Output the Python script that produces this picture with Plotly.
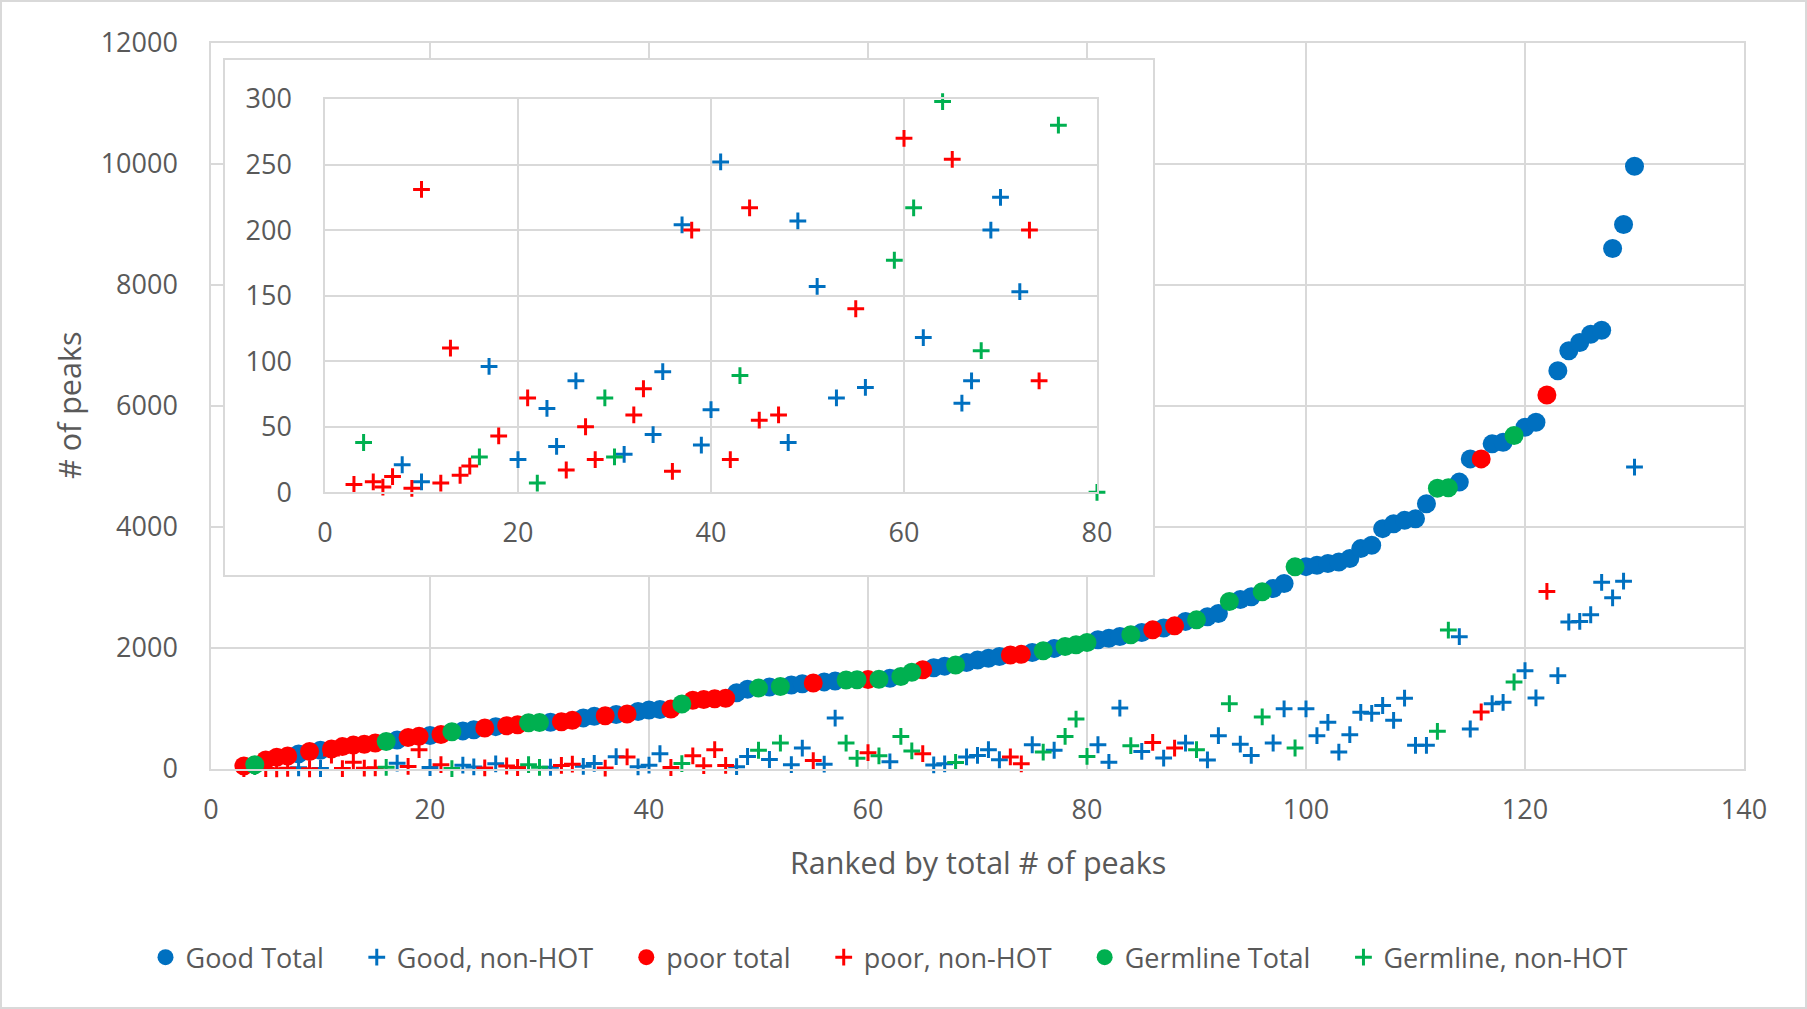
import plotly.graph_objects as go

# ---------------- data ----------------
ranks = list(range(3, 131))

# G = Good, P = poor, L = Germline
category = (
    ["P", "L", "P", "P", "P", "G", "P", "G", "P", "P"] +      # 3-12
    ["P", "P", "P", "L", "G", "P", "P", "G", "P", "L"] +      # 13-22
    ["G", "G", "P", "G", "P", "P", "L", "L", "G", "P"] +      # 23-32
    ["P", "G", "G", "P", "G", "P", "G", "G", "G", "P"] +      # 33-42
    ["L", "P", "P", "P", "P", "G", "G", "L", "G", "L"] +      # 43-52
    ["G", "G", "P", "G", "G", "L", "L", "P", "L", "G"] +      # 53-62
    ["L", "L", "P", "G", "G", "L", "G", "G", "G", "G"] +      # 63-72
    ["P", "P", "G", "L", "G", "L", "L", "L", "G", "G"] +      # 73-82
    ["G", "L", "G", "P", "G", "P", "G", "L", "G", "G"] +      # 83-92
    ["L", "G", "G", "L", "G", "G", "L", "G", "G", "G"] +      # 93-102
    ["G", "G", "G", "G", "G", "G", "G", "G", "G", "L"] +      # 103-112
    ["L", "G", "G", "P", "G", "G", "L", "G", "G", "P"] +      # 113-122
    ["G", "G", "G", "G", "G", "G", "G", "G"]                  # 123-130
)

total_peaks = [
    50, 70, 150, 195, 215, 250, 290, 310, 330, 370,
    395, 410, 430, 456, 480, 520, 540, 555, 570, 615,
    630, 650, 677, 700, 715, 730, 765, 770, 772, 780,
    805, 845, 870, 880, 900, 910, 950, 975, 985, 990,
    1075, 1135, 1150, 1160, 1170, 1260, 1320, 1337, 1355, 1365,
    1390, 1410, 1420, 1440, 1455, 1470, 1475, 1478, 1482, 1500,
    1530, 1600, 1640, 1675, 1700, 1720, 1760, 1800, 1830, 1860,
    1885, 1895, 1925, 1955, 1990, 2025, 2055, 2090, 2135, 2160,
    2190, 2218, 2255, 2300, 2330, 2366, 2440, 2465, 2516, 2571,
    2770, 2800, 2846, 2930, 2984, 3066, 3341, 3345, 3368, 3396,
    3423, 3478, 3643, 3698, 3973, 4055, 4110, 4137, 4385, 4640,
    4650, 4742, 5126, 5126, 5374, 5401, 5511, 5648, 5731, 6181,
    6582, 6912, 7049, 7187, 7253, 8604, 9000, 9962,
]

nonhot_peaks = [
    6, 38, 8, 4, 12, 21, 3, 8, 231, 7,
    110, 13, 20, 27, 96, 43, 319, 25, 72, 7,
    64, 35, 17, 85, 50, 25, 72, 27, 29, 59,
    79, 44, 92, 16, 204, 200, 36, 63, 252, 25,
    89, 217, 55, 319, 59, 38, 207, 310, 157, 429,
    72, 346, 140, 80, 842, 429, 177, 270, 217, 118,
    539, 298, 254, 68, 85, 108, 200, 225, 319, 153,
    200, 85, 401, 280, 310, 539, 825, 208, 401, 110,
    1007, 385, 291, 440, 181, 346, 429, 319, 150, 551,
    1080, 410, 225, 860, 430, 995, 347, 995, 551, 771,
    280, 567, 937, 920, 1050, 805, 1170, 391, 391, 623,
    2297, 2187, 661, 942, 1080, 1102, 1438, 1625, 1174, 2935,
    1543, 2430, 2440, 2550, 3085, 2830, 3105, 4990,
]

# inset (non-HOT peaks, zoomed to 0-300)
inset_good_x = [8, 10, 17, 20, 23, 24, 26, 31, 34, 35, 37, 39, 40, 41, 48, 49, 51, 53, 56, 62, 66, 67, 69, 70, 72]
inset_good_y = [21, 8, 96, 25, 64, 35, 85, 29, 44, 92, 204, 36, 63, 252, 38, 207, 157, 72, 80, 118, 68, 85, 200, 225, 153]
inset_poor_x = [3, 5, 6, 7, 9, 10, 12, 13, 14, 15, 18, 21, 25, 27, 28, 32, 33, 36, 38, 42, 44, 45, 47, 55, 60, 65, 73, 74]
inset_poor_y = [6, 8, 4, 12, 3, 231, 7, 110, 13, 20, 43, 72, 17, 50, 25, 59, 79, 16, 200, 25, 217, 55, 59, 140, 270, 254, 200, 85]
inset_germ_x = [4, 16, 22, 29, 30, 43, 59, 61, 64, 68, 76, 80]
inset_germ_y = [38, 27, 7, 72, 27, 89, 177, 217, 298, 108, 280, 0]

main_x_ticks = [0, 20, 40, 60, 80, 100, 120, 140]
main_y_ticks = [0, 2000, 4000, 6000, 8000, 10000, 12000]
inset_x_ticks = [0, 20, 40, 60, 80]
inset_y_ticks = [0, 50, 100, 150, 200, 250, 300]

# ---------------- styling ----------------
BLUE, RED, GREEN = "#0070C0", "#FF0000", "#00B050"
GRID = "#D9D9D9"
TXT = "#595959"
FONT = "Open Sans"
PAD = "\u00a0" * 4

groups = [
    ("G", "Good Total", "Good, non-HOT", BLUE),
    ("P", "poor total", "poor, non-HOT", RED),
    ("L", "Germline Total", "Germline, non-HOT", GREEN),
]

fig = go.Figure()

for code, tname, nname, col in groups:
    xs = [r for r, c in zip(ranks, category) if c == code]
    ts = [t for t, c in zip(total_peaks, category) if c == code]
    ns = [n for n, c in zip(nonhot_peaks, category) if c == code]
    fig.add_trace(go.Scatter(
        x=xs, y=ts, mode="markers", name=tname + PAD,
        marker=dict(symbol="circle", size=19, color=col, line=dict(width=0)),
        cliponaxis=False, xaxis="x", yaxis="y"))
    fig.add_trace(go.Scatter(
        x=xs, y=ns, mode="markers", name=nname + PAD,
        marker=dict(symbol="cross-thin", size=12, color=col, line=dict(width=3, color=col)),
        cliponaxis=False, xaxis="x", yaxis="y"))

# frame subplot for the inset (white panel with border)
fig.add_trace(go.Scatter(x=[None], y=[None], xaxis="x2", yaxis="y2",
                         showlegend=False, hoverinfo="skip"))

for xs, ys, col in [(inset_good_x, inset_good_y, BLUE),
                    (inset_poor_x, inset_poor_y, RED),
                    (inset_germ_x, inset_germ_y, GREEN)]:
    fig.add_trace(go.Scatter(
        x=xs, y=ys, mode="markers", showlegend=False,
        marker=dict(symbol="cross-thin", size=12, color=col, line=dict(width=3, color=col)),
        cliponaxis=False, xaxis="x3", yaxis="y3"))

W, H = 1807, 1009
L, R, T, B = 211, 63, 43, 240
pw, ph = W - L - R, H - T - B


def px_to_paper_x(px):
    return (px - L) / pw


def px_to_paper_y(py):
    return (H - B - py) / ph


axis_common = dict(
    showgrid=True, gridcolor=GRID, gridwidth=1.5,
    showline=True, mirror=True, linecolor=GRID, linewidth=1.5,
    zeroline=False, ticks="", fixedrange=True, tickformat="d",
    tickfont=dict(family=FONT, size=27, color=TXT),
)

fig.update_layout(
    width=W, height=H,
    margin=dict(l=L, r=R, t=T, b=B, autoexpand=False),
    paper_bgcolor="white", plot_bgcolor="white",
    font=dict(family=FONT, color=TXT),
    xaxis=dict(domain=[0, 1], range=[0, 140], tickmode="array", tickvals=main_x_ticks,
               ticklabelstandoff=16, anchor="y", **axis_common),
    yaxis=dict(domain=[0, 1], range=[0, 12000], tickmode="array", tickvals=main_y_ticks,
               ticklabelstandoff=26, anchor="x", **axis_common),
    xaxis2=dict(domain=[px_to_paper_x(225), px_to_paper_x(1153)], range=[0, 1], anchor="y2",
                showgrid=False, zeroline=False, showticklabels=False, ticks="",
                showline=True, mirror=True, linecolor=GRID, linewidth=2, fixedrange=True),
    yaxis2=dict(domain=[px_to_paper_y(575), px_to_paper_y(60)], range=[0, 1], anchor="x2",
                showgrid=False, zeroline=False, showticklabels=False, ticks="",
                showline=True, mirror=True, linecolor=GRID, linewidth=2, fixedrange=True),
    xaxis3=dict(domain=[px_to_paper_x(325), px_to_paper_x(1097)], range=[0, 80],
                tickmode="array", tickvals=inset_x_ticks, anchor="y3",
                ticklabelstandoff=16, **axis_common),
    yaxis3=dict(domain=[px_to_paper_y(492.3), px_to_paper_y(99)], range=[0, 300],
                tickmode="array", tickvals=inset_y_ticks, anchor="x3",
                ticklabelstandoff=26, **axis_common),
    legend=dict(orientation="h", xref="container", yref="container",
                x=0.5, xanchor="center", y=1 - 957.6 / H, yanchor="middle",
                font=dict(family=FONT, size=27, color=TXT),
                bgcolor="rgba(0,0,0,0)", itemclick=False, itemdoubleclick=False),
    showlegend=True,
    annotations=[
        dict(text="Ranked by total # of peaks", xref="paper", yref="paper",
             x=0.5, y=px_to_paper_y(862), xanchor="center", yanchor="middle",
             showarrow=False, font=dict(family=FONT, size=30.5, color=TXT)),
        dict(text="# of peaks", xref="paper", yref="paper",
             x=px_to_paper_x(69), y=0.5, xanchor="center", yanchor="middle",
             textangle=-90, showarrow=False, font=dict(family=FONT, size=30.5, color=TXT)),
    ],
    shapes=[
        dict(type="rect", xref="paper", yref="paper", layer="below",
             x0=px_to_paper_x(1), x1=px_to_paper_x(W - 1),
             y0=px_to_paper_y(H - 1), y1=px_to_paper_y(1),
             line=dict(color=GRID, width=2), fillcolor="rgba(0,0,0,0)"),
    ],
)

fig.write_html("out.html")
